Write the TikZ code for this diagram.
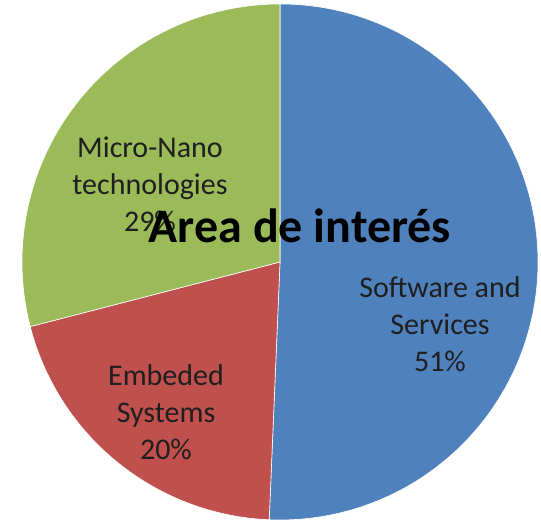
\documentclass[tikz,border=0pt]{standalone}
\usepackage{fontspec}
\setmainfont{Carlito}
\usetikzlibrary{positioning}

\definecolor{softblue}{HTML}{4F81BD}
\definecolor{softred}{HTML}{C0504D}
\definecolor{softgreen}{HTML}{9BBB59}

\begin{document}
\begin{tikzpicture}[x=1pt, y=1pt]
    \useasboundingbox[fill=white] (0,0) rectangle (541,521);

    \coordinate (C) at (280,259);
    \def\R{258}    % radius of the pie

    % slices: start angle / end angle / colour
    \foreach \A/\B/\Col in {90/-92.4/softblue, -92.4/-165.5/softred, -165.5/-270/softgreen} {
      \filldraw[fill=\Col, draw=white, line width=0.6pt] (C) -- ++(\A:\R) arc (\A:\B:\R) -- cycle;
    }

    \tikzset{slicelabel/.style={font=\fontsize{30}{37}\selectfont, text=black!88, align=center, inner sep=0pt}}

    \node[slicelabel] (software) at (440,197) {Software and\\Services\\51\%};
    \node[slicelabel] (embeded) at (166,109) {Embeded\\Systems\\20\%};
    \node[slicelabel] (micronano) at (150,337) {Micro-Nano\\technologies\\29\%};

    \node[font=\fontsize{48}{54}\selectfont\bfseries, anchor=base, inner sep=0pt] (title) at (300,278) {Area de interés};
  \end{tikzpicture}
\end{document}
